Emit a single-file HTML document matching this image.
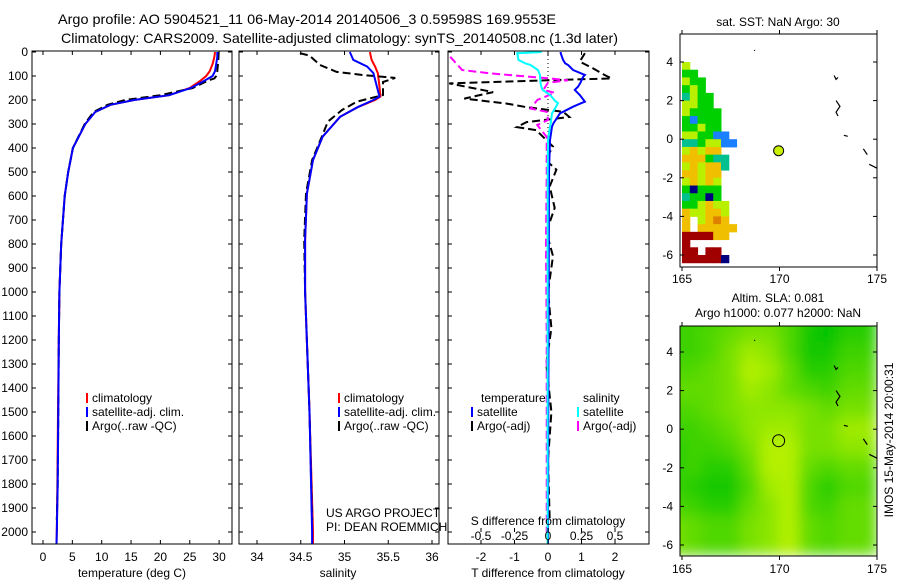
<!DOCTYPE html>
<html><head><meta charset="utf-8"><style>
html,body{margin:0;padding:0;background:#fff;}
svg{display:block;font-family:"Liberation Sans",sans-serif;}
text{fill:#000;}
</style></head><body>
<svg id="fig" xmlns="http://www.w3.org/2000/svg" width="900" height="580" viewBox="0 0 900 580">
<rect width="900" height="580" fill="#fff"/>
<text x="58" y="24" font-size="14" textLength="498" lengthAdjust="spacingAndGlyphs">Argo profile: AO 5904521_11 06-May-2014 20140506_3 0.59598S 169.9553E</text>
<text x="61" y="43" font-size="14" textLength="557" lengthAdjust="spacingAndGlyphs">Climatology: CARS2009. Satellite-adjusted climatology: synTS_20140508.nc (1.3d later)</text>
<defs>
<clipPath id="c1"><rect x="32" y="51" width="200" height="493"/></clipPath>
<clipPath id="c2"><rect x="239" y="51" width="200" height="493"/></clipPath>
<clipPath id="c3"><rect x="448" y="51" width="201" height="493"/></clipPath>
<filter id="blur"><feGaussianBlur stdDeviation="7"/></filter>
<clipPath id="cm2"><rect x="680" y="326" width="197" height="230"/></clipPath>
</defs>
<g id="g1" clip-path="url(#c1)"></g>
<g id="g2" clip-path="url(#c2)"></g>
<g id="g3" clip-path="url(#c3)"></g>
<g id="m1"></g>
<g id="m2" clip-path="url(#cm2)"></g>
<g id="axes"></g>
<text x="132" y="577" font-size="12" text-anchor="middle">temperature (deg C)</text>
<text x="338" y="577" font-size="12" text-anchor="middle">salinity</text>
<text x="548" y="525" font-size="12" text-anchor="middle">S difference from climatology</text>
<text x="548" y="577" font-size="12" text-anchor="middle">T difference from climatology</text>
<text x="326" y="517" font-size="12">US ARGO PROJECT</text>
<text x="326" y="531" font-size="12">PI: DEAN ROEMMICH</text>
<text x="778" y="26" font-size="12" text-anchor="middle">sat. SST: NaN Argo: 30</text>
<text x="778" y="302" font-size="12" text-anchor="middle">Altim. SLA: 0.081</text>
<text x="778" y="317" font-size="12" text-anchor="middle">Argo h1000: 0.077 h2000: NaN</text>
<text transform="translate(893,440) rotate(-90)" font-size="12" text-anchor="middle">IMOS 15-May-2014 20:00:31</text>
<g id="legends"></g>
</svg>
<script>
// ---------- data ----------
const tDepth=[0,20,50,80,100,120,150,180,200,220,250,300,400,500,600,800,1000,1200,1500,1800,2000,2050];
const tClim=[29.3,29.2,28.9,28.4,27.8,26.8,25,21.5,15.5,11.5,8.9,7.2,5.1,4.3,3.7,3.1,2.8,2.7,2.55,2.45,2.35,2.3];
const tSat=[29.7,29.7,29.5,29.3,28.9,27.5,25.2,21.5,15.5,11.5,8.9,7.2,5.1,4.3,3.7,3.1,2.8,2.7,2.6,2.5,2.35,2.3];
const tArgoDepth=[0,20,50,80,100,110,120,150,180,200,220,250,300,400,500,600,800,1000,1200,1500,1800,1950];
const tArgo=[29.9,29.9,29.8,29.7,29.5,29.2,28,25.5,20,14,11,8.6,7.1,5.1,4.3,3.7,3.1,2.8,2.7,2.6,2.5,2.35];
const sDepth=[0,33,61,88,144,186,200,230,270,353,450,590,783,1000,1500,2000,2050];
const sClim=[35.29,35.31,35.35,35.38,35.4,35.41,35.35,35.15,34.95,34.75,34.64,34.57,34.55,34.55,34.6,34.64,34.64];
const sSat=[35.06,35.1,35.26,35.33,35.37,35.4,35.33,35.15,34.95,34.75,34.64,34.57,34.55,34.55,34.6,34.63,34.63];
const sArgoDepth=[5,15,54,83,96,108,125,179,207,242,290,353,450,590,783,1000,1500,1950];
const sArgo=[34.49,34.6,34.72,34.91,35.21,35.58,35.44,35.44,35.14,34.97,34.81,34.74,34.63,34.56,34.54,34.55,34.6,34.63];
const dDepth=[0,5,33,47,54,75,96,103,130,144,158,179,207,213,228,249,255,297,311,367,500,1000,1500,2050];
const dTSat=[0.38,0.38,0.45,0.51,0.6,0.75,1.1,1.05,0.96,0.9,0.8,0.95,1.1,1.0,0.75,0.45,0.36,0.16,0.12,0.06,0.03,0.02,0.01,0.0];
const dSSat=[-0.047,-0.23,-0.22,-0.17,-0.13,-0.075,-0.06,-0.06,-0.055,-0.05,-0.04,0.015,0.06,0.075,0.06,0.037,0.03,0.02,0.015,0.0,-0.002,-0.003,-0.003,-0.003];
const dSArgoDepth=[20,75,89,110,118,128,158,170,200,236,249,283,304,354,500,800,1200,1600,2000];
const dSArgo=[-0.73,-0.64,-0.43,0.01,0.15,0.0,-0.035,0.05,-0.08,-0.13,-0.01,0.0,-0.08,-0.01,-0.01,-0.015,-0.01,-0.01,-0.01];
const dTArgoDepth=[5,40,68,96,110,118,131,167,194,215,230,249,271,292,313,326,367,394,449,490,560,650,750,850,1000,1150,1300,1500,1700,1950];
const dTArgo=[1.1,0.95,1.34,1.69,1.9,0.0,-2.95,-1.64,-2.5,-1.23,-0.64,0.45,0.64,-0.64,-0.93,-0.35,-0.05,0.15,-0.08,0.25,0.05,0.2,-0.05,0.15,0.0,0.1,-0.05,0.1,0.0,0.05];
const depthTicks=[0,100,200,300,400,500,600,700,800,900,1000,1100,1200,1300,1400,1500,1600,1700,1800,1900,2000];
const tTicks=[0,5,10,15,20,25,30];
const sTicks=[34,34.5,35,35.5,36];
const dtTicks=[-2,-1,0,1,2];
const dsTicks=[-0.5,-0.25,0,0.25,0.5];
const dsTickLabels=["-0.5","-0.25","0","0.25","0.5"];
const latTicks=[4,2,0,-2,-4,-6];
const lonTicks=[165,170,175];
// SST map (cells 0.4 deg, starting lon 165, lat top 4.0)
const sstRows=["y......","gg.....","ygg....","gyg....","tygg...","yygg...","ygggg..","gbggg..","ggygg..","yyggbb.","ttgyybb","yoyoo..","ooogtt.","yoyoot.","ooyoo..","yoyoy..","gnggg..","tggng..","ggyoyy.","oyyooy.","o.yoOo.","o.ooooo","rrrroo.","r......","rr.rr..","rrrrrn."];
// SLA map brightness (1-deg cells lon 165..174, lat 5..-6)
const slaGrid=[[.3,.3,.3,.4,.5,.5,.4,.2,.1,.2],[.3,.3,.4,.5,.6,.6,.4,.1,0,.2],[.3,.3,.4,.6,.8,.7,.4,.1,.1,.3],[.4,.4,.5,.6,.9,.8,.5,.2,.2,.4],[.5,.5,.5,.6,.8,.7,.5,.4,.3,.5],[.4,.4,.5,.6,.7,.7,.7,.6,.5,.6],[.3,.3,.4,.5,.7,.8,.8,.6,.6,.8],[.2,.3,.3,.4,.6,.9,.9,.6,.6,.7],[.2,.3,.2,.2,.5,.9,.9,.5,.4,.5],[.3,.2,.1,.1,.4,.8,.9,.4,.2,.4],[.4,.3,.2,.2,.5,.7,.9,.4,.3,.5],[.6,.5,.4,.4,.6,.7,.9,.5,.4,.5]];
const argoLon=[169.9553];
const argoLat=[-0.59598];

// ---------- scales ----------
const NS="http://www.w3.org/2000/svg";
const yD=d=>52+d*0.24;
const xT=t=>43+t*5.87;
const xS=s=>257+(s-34)*87.5;
const xDT=v=>548+v*33.5;
const xDS=v=>548+v*134;
const mx=lon=>682+(lon-165)*19.5;
const my1=lat=>62+(4-lat)*19.3;
const my2=lat=>352+(4-lat)*19.3;
function el(tag,attrs,parent){const e=document.createElementNS(NS,tag);for(const k in attrs)e.setAttribute(k,attrs[k]);parent.appendChild(e);return e;}
function line(parent,ds,vs,fx,color,dash,name){
  const pts=ds.map((d,i)=>fx(vs[i]).toFixed(1)+","+yD(d).toFixed(1)).join(" ");
  const p=el("polyline",{points:pts,fill:"none",stroke:color,"stroke-width":2,"stroke-dasharray":dash||"none"},parent);
  
  
}
const g1=document.getElementById("g1"),g2=document.getElementById("g2"),g3=document.getElementById("g3");
line(g1,tDepth,tClim,xT,"#f00","","temperature-climatology-line");
line(g1,tArgoDepth,tArgo,xT,"#000","8,4","temperature-argo-line");
line(g1,tDepth,tSat,xT,"#00f","","temperature-satellite-line");
line(g2,sDepth,sClim,xS,"#f00","","salinity-climatology-line");
line(g2,sArgoDepth,sArgo,xS,"#000","8,4","salinity-argo-line");
line(g2,sDepth,sSat,xS,"#00f","","salinity-satellite-line");
const zl=el("line",{x1:548,x2:548,y1:51,y2:544,stroke:"#000","stroke-width":1,"stroke-dasharray":"1,3"},g3);


line(g3,dTArgoDepth,dTArgo,xDT,"#000","8,4","t-diff-argo-line");
line(g3,dSArgoDepth,dSArgo,xDS,"#f0f","8,4","s-diff-argo-line");
line(g3,dDepth,dTSat,xDT,"#00f","","t-diff-satellite-line");
line(g3,dDepth,dSSat,xDS,"#0ff","","s-diff-satellite-line");

// ---------- axes ----------
const ax=document.getElementById("axes");
function frame(x1,y1,x2,y2,name){const r=el("rect",{x:x1,y:y1,width:x2-x1,height:y2-y1,fill:"none",stroke:"#000","stroke-width":1},ax);}
function txt(x,y,s,anchor,name,size){const t=el("text",{x:x,y:y,"font-size":size||12,"text-anchor":anchor},ax);t.textContent=s;}
function tk(x1,y1,x2,y2){const l=el("line",{x1:x1,y1:y1,x2:x2,y2:y2,stroke:"#000","stroke-width":1},ax);}
const panels=[[32,232,xT,tTicks,"temperature"],[239,439,xS,sTicks,"salinity"],[448,649,xDT,dtTicks,"t-difference"]];
panels.forEach(p=>{
  frame(p[0],51,p[1],544,p[4]+"-panel-frame");
  depthTicks.forEach(d=>{const y=yD(d);tk(p[0],y,p[0]+4,y);tk(p[1],y,p[1]-4,y);});
  p[3].forEach(v=>{const x=p[2](v);tk(x,544,x,540);tk(x,51,x,55);txt(x,561,String(v),"middle",p[4]+"-tick-label");});
});
depthTicks.forEach(d=>txt(28,yD(d)+4,String(d),"end","depth-tick-label"));
dsTicks.forEach((v,i)=>{const x=xDS(v);tk(x,528,x,532);txt(x,540,dsTickLabels[i],"middle","s-difference-tick-label");});

// ---------- maps ----------
const m1=document.getElementById("m1"),m2=document.getElementById("m2");
const col={g:"#00d000",y:"#b8f000",t:"#00c090",b:"#1a80ff",o:"#f0c000",O:"#e08000",r:"#a00000",n:"#000080"};
sstRows.forEach((row,ri)=>{[...row].forEach((c,ci)=>{if(c==="."||!col[c])return;
  const lat=4.0-ri*0.4,lon=165+ci*0.4;
  const r=el("rect",{x:mx(lon),y:my1(lat),width:0.4*19.5+0.5,height:0.4*19.3+0.5,fill:col[c]},m1);
  
  
});});
const sg=el("g",{filter:"url(#blur)"},m2);
slaGrid.forEach((row,ri)=>row.forEach((v,ci)=>{
  const lat=5.5-ri,lon=164.5+ci;
  const c="rgb("+Math.round(200*v)+","+Math.round(195+50*v)+",0)";
  const r=el("rect",{x:mx(lon)-10,y:my2(lat+0.5)-10,width:19.5+20,height:19.3+20,fill:c},sg);
  
  
}));
// coast bits
[[my1,m1],[my2,m2]].forEach(([my,g])=>{
  const paths=[[[172.8,3.3],[172.9,3.1],[173.0,3.2]],[[172.9,2.0],[173.1,1.7],[172.9,1.4],[173.0,1.2]],[[173.3,0.2],[173.5,0.15]],[[174.3,-0.5],[174.5,-0.8]],[[174.6,-1.3],[175,-1.5]],[[168.7,4.6],[168.75,4.6]]];
  paths.forEach(pp=>{const p=el("polyline",{points:pp.map(a=>mx(a[0])+","+my(a[1])).join(" "),fill:"none",stroke:"#000","stroke-width":1.2},g);});
});
const c1=el("circle",{cx:mx(argoLon[0]),cy:my1(argoLat[0]),r:5,fill:"#c8f000",stroke:"#000","stroke-width":1},m1);


const c2=el("circle",{cx:mx(argoLon[0]),cy:my2(argoLat[0]),r:6,fill:"none",stroke:"#000","stroke-width":1},ax);


[[34,267,my1,283,"sst-map"],[326,556,my2,573,"sla-map"]].forEach(m=>{
  frame(680,m[0],877,m[1],m[4]+"-frame");
  latTicks.forEach(l=>{const y=m[2](l);tk(680,y,684,y);tk(877,y,873,y);txt(673,y+4,String(l),"end",m[4]+"-lat-label");});
  lonTicks.forEach(l=>{const x=mx(l);tk(x,m[1],x,m[1]+4);tk(x,m[0],x,m[0]-4);txt(x,m[3],String(l),"middle",m[4]+"-lon-label");});
});

// ---------- legends ----------
const lg=document.getElementById("legends");
function leg(x,y,color,label,name){
  const l=el("line",{x1:x,y1:y-9,x2:x,y2:y+1,stroke:color,"stroke-width":2},lg);
  
  
  const t=el("text",{x:x+5,y:y,"font-size":12},lg);t.textContent=label;
  
  
}
leg(87,402,"#f00","climatology","legend-climatology");
leg(87,416,"#00f","satellite-adj. clim.","legend-satellite");
leg(87,430,"#000","Argo(..raw -QC)","legend-argo");
leg(339,402,"#f00","climatology","legend-climatology-s");
leg(339,416,"#00f","satellite-adj. clim.","legend-satellite-s");
leg(339,430,"#000","Argo(..raw -QC)","legend-argo-s");
txt(481,402,"temperature","start","legend-temperature-header");
txt(583,402,"salinity","start","legend-salinity-header");
leg(472,416,"#00f","satellite","legend-t-satellite");
leg(472,430,"#000","Argo(-adj)","legend-t-argo");
leg(578,416,"#0ff","satellite","legend-s-satellite");
leg(578,430,"#f0f","Argo(-adj)","legend-s-argo");
</script>
</body></html>
